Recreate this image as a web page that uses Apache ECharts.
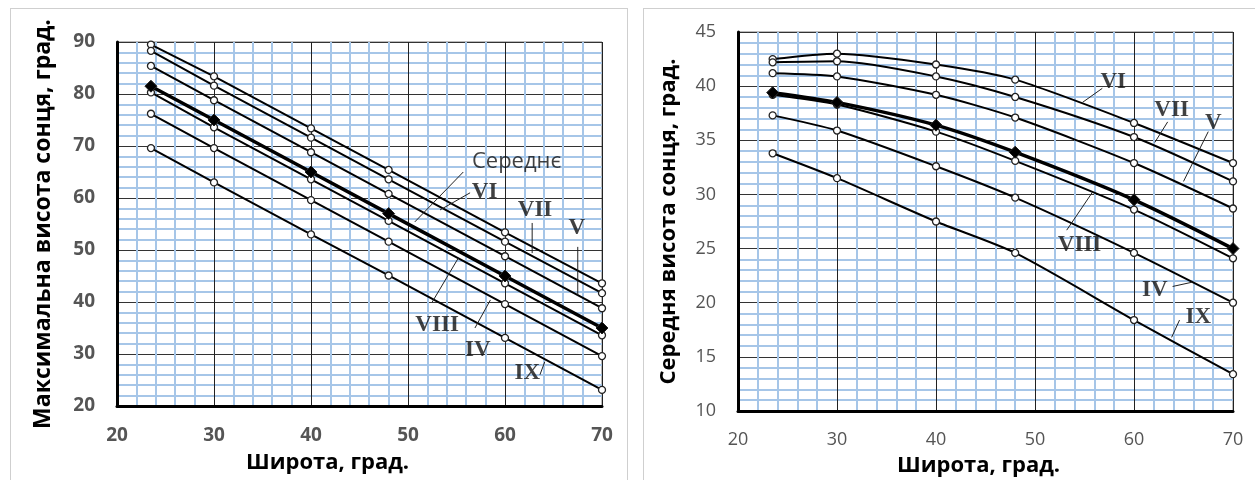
<!DOCTYPE html>
<html>
<head>
<meta charset="utf-8">
<script src="https://cdn.jsdelivr.net/npm/echarts@6/dist/echarts.min.js"></script>
<style>
  html, body { margin: 0; padding: 0; background: #fff; }
  .panel { position: absolute; border: 1px solid #cfcfcf; background: #fff; }
  #left { left: 10px; top: 8px; width: 616px; height: 480px; }
  #right { left: 643px; top: 8px; width: 620px; height: 480px; }
</style>
</head>
<body>
<div id="left" class="panel"></div>
<div id="right" class="panel"></div>
<script>
// широти точок
const latitudes = [23.5, 30, 40, 48, 60, 70];

// максимальна висота сонця
const maxVI   = [89.5, 83.4, 73.4, 65.4, 53.4, 43.6];
const maxVII  = [88.3, 81.6, 71.6, 63.6, 51.6, 41.7];
const maxV    = [85.4, 78.8, 68.8, 60.8, 48.8, 38.8];
const maxAvg  = [81.5, 75.0, 65.0, 57.0, 45.0, 35.0];
const maxVIII = [80.3, 73.6, 63.6, 55.6, 43.6, 33.6];
const maxIV   = [76.2, 69.6, 59.6, 51.6, 39.6, 29.6];
const maxIX   = [69.6, 63.0, 53.0, 45.1, 33.1, 23.1];

// середня висота сонця
const meanVI   = [42.5, 43.0, 42.0, 40.6, 36.6, 32.9];
const meanVII  = [42.2, 42.3, 40.9, 39.0, 35.3, 31.2];
const meanV    = [41.2, 40.9, 39.2, 37.1, 32.9, 28.7];
const meanAvg  = [39.4, 38.5, 36.4, 33.9, 29.5, 25.0];
const meanVIII = [39.2, 38.3, 35.8, 33.1, 28.6, 24.1];
const meanIV   = [37.3, 35.9, 32.6, 29.7, 24.6, 20.0];
const meanIX   = [33.8, 31.5, 27.5, 24.6, 18.4, 13.4];

// підписи кривих: текст, місце тексту, виноска від/до
const leftNotes = [
  { text: 'Середнє', at: [61.2, 66.9], from: [55.7, 65.0], to: [50.7, 55.4] },
  { text: 'VI',   at: [57.9, 61.2], from: [56.4, 61.0], to: [53.3, 57.7] },
  { text: 'VII',  at: [63.1, 57.7], from: [62.8, 55.2], to: [62.8, 49.4] },
  { text: 'V',    at: [67.4, 54.2], from: [67.5, 50.6], to: [67.5, 41.3] },
  { text: 'VIII', at: [53.0, 35.6], from: [52.5, 40.0], to: [55.2, 48.5] },
  { text: 'IV',   at: [57.2, 30.8], from: [56.9, 35.0], to: [58.5, 40.4] },
  { text: 'IX',   at: [62.3, 26.3], from: [63.6, 26.0], to: [64.1, 28.5] }
];
const rightNotes = [
  { text: 'VI',   at: [57.9, 40.4], from: [56.8, 39.8], to: [54.8, 38.5] },
  { text: 'VII',  at: [63.8, 37.8], from: [63.4, 36.7], to: [62.1, 34.8] },
  { text: 'V',    at: [68.0, 36.6], from: [67.5, 35.8], to: [65.0, 31.2] },
  { text: 'VIII', at: [54.5, 25.3], from: [55.8, 30.2], to: [53.2, 26.7] },
  { text: 'IV',   at: [62.1, 21.2], from: [63.9, 21.5], to: [65.9, 21.9] },
  { text: 'IX',   at: [66.5, 18.7], from: [64.6, 18.4], to: [63.8, 16.8] }
];

function pairs(vals) {
  return latitudes.map((x, i) => [x, vals[i]]);
}

function curve(name, vals, smooth) {
  let bold = name == 'Середнє';
  return {
    name: name,
    type: 'line',
    data: pairs(vals),
    smooth: smooth,
    z: bold ? 4 : 3,
    symbol: bold ? 'diamond' : 'circle',
    symbolSize: bold ? 12 : 7,
    lineStyle: { color: '#000', width: bold ? 3.5 : 2 },
    itemStyle: { color: bold ? '#000' : '#fff', borderColor: '#222', borderWidth: bold ? 1 : 1.3 },
    silent: true
  };
}

function notes(list) {
  let out = [];
  for (let n of list) {
    out.push({
      type: 'line',
      data: [n.from, n.to],
      symbol: 'none',
      lineStyle: { color: '#222', width: 1 },
      silent: true,
      z: 5
    });
  }
  out.push({
    type: 'scatter',
    symbolSize: 0,
    z: 6,
    silent: true,
    data: list.map(n => ({
      value: n.at,
      name: n.text,
      label: n.text == 'Середнє'
        ? { fontFamily: 'Open Sans', fontWeight: 'normal', fontSize: 22 }
        : { fontFamily: 'Liberation Serif', fontWeight: 'bold', fontSize: 23 }
    })),
    label: {
      show: true,
      position: 'inside',
      formatter: '{b}',
      color: '#111'
    }
  });
  return out;
}

function axes(o) {
  return {
    xAxis: {
      type: 'value',
      min: 20, max: 70, interval: 10,
      name: 'Широта, град.',
      nameLocation: 'middle',
      nameGap: o.xNameGap,
      nameTextStyle: { color: '#000', fontWeight: 'bold', fontSize: 22, fontFamily: 'Open Sans', padding: o.xNamePad },
      axisLine: { onZero: false, lineStyle: { color: '#000', width: 3 } },
      axisTick: { show: false },
      axisLabel: { margin: 20, color: '#555', fontSize: o.labSize, fontWeight: o.labWeight, fontFamily: 'Open Sans' },
      splitLine: { show: true, lineStyle: { color: '#222', width: 1 } },
      minorTick: { show: false, splitNumber: 5 },
      minorSplitLine: { show: true, lineStyle: { color: '#a6c6e8', width: 2 } }
    },
    yAxis: {
      type: 'value',
      min: o.yMin, max: o.yMax, interval: o.yStep,
      name: o.yName,
      nameLocation: 'middle',
      nameGap: o.yNameGap,
      nameTextStyle: { color: '#000', fontWeight: 'bold', fontSize: o.yNameSize, fontFamily: 'Open Sans' },
      axisLine: { show: true, onZero: false, lineStyle: { color: '#000', width: 3 } },
      axisTick: { show: false },
      axisLabel: { margin: 22, color: '#555', fontSize: o.labSize, fontWeight: o.labWeight, fontFamily: 'Open Sans' },
      splitLine: { show: true, lineStyle: { color: '#333', width: 1 } },
      minorTick: { show: false, splitNumber: 5 },
      minorSplitLine: { show: true, lineStyle: { color: '#a6c6e8', width: 2 } }
    }
  };
}

function drawChart(id, o, lines, list) {
  let chart = echarts.init(document.getElementById(id), null, { renderer: 'canvas' });
  let a = axes(o);
  let option = {
    animation: false,
    backgroundColor: '#fff',
    grid: { left: o.left, top: o.top, width: o.width, height: o.height, show: true, borderColor: '#777', borderWidth: 1, backgroundColor: 'transparent' },
    xAxis: a.xAxis,
    yAxis: a.yAxis,
    series: lines.concat(notes(list))
  };
  chart.setOption(option, true);
  window.addEventListener('resize', function () {
    chart.resize();
  });
}

drawChart('left', {
  left: 106, top: 33, width: 485, height: 364,
  yMin: 20, yMax: 90, yStep: 10,
  yName: 'Максимальна висота сонця, град.', yNameSize: 23,
  yNameGap: 62, xNameGap: 46, xNamePad: [0, 64, 0, 0],
  labSize: 19, labWeight: 'bold'
}, [
  curve('VI', maxVI, false),
  curve('VII', maxVII, false),
  curve('V', maxV, false),
  curve('VIII', maxVIII, false),
  curve('IV', maxIV, false),
  curve('IX', maxIX, false),
  curve('Середнє', maxAvg, false)
], leftNotes);

drawChart('right', {
  left: 94, top: 23, width: 495, height: 379,
  yMin: 10, yMax: 45, yStep: 5,
  yName: 'Середня висота сонця, град.', yNameSize: 22,
  yNameGap: 58, xNameGap: 44, xNamePad: [0, 14, 0, 0],
  labSize: 18, labWeight: 'normal'
}, [
  curve('VI', meanVI, 0.25),
  curve('VII', meanVII, 0.25),
  curve('V', meanV, 0.25),
  curve('VIII', meanVIII, 0.25),
  curve('IV', meanIV, 0.25),
  curve('IX', meanIX, 0.25),
  curve('Середнє', meanAvg, 0.25)
], rightNotes);
</script>
</body>
</html>
